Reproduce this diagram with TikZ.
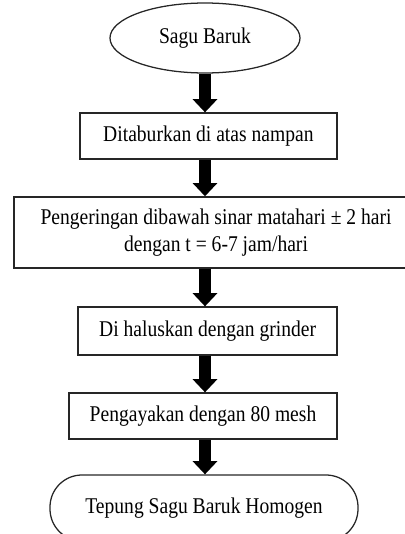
\documentclass[tikz,border=0pt]{standalone}
\usepackage{fontspec}
\setmainfont[FakeStretch=0.87]{Liberation Serif}
\usetikzlibrary{arrows.meta,shapes.geometric}

\begin{document}
\begin{tikzpicture}[x=1cm,y=1cm,font=\fontsize{16}{19}\selectfont,
    >={Triangle[width=0.6cm,length=0.33cm]},
    langkah/.style={draw=black!85,line width=0.9pt,align=center,inner sep=0pt},
    panah/.style={->,line width=0.28cm}]
    \useasboundingbox (0,0) rectangle (10.125,13.35);
    \coordinate (poros) at (5.125,0);

    \node[langkah,ellipse,minimum width=4.75cm,minimum height=1.75cm]
        (sagu) at (5.125,12.4) {Sagu Baruk};
    \node[langkah,minimum width=6.425cm,minimum height=1.15cm]
        (tabur) at (5.21,9.95) {Ditaburkan di atas nampan};
    \node[langkah,minimum width=10.1cm,minimum height=1.775cm]
        (kering) at (5.4,7.54)
        {Pengeringan dibawah sinar matahari ± 2 hari\\
         dengan t = 6-7 jam/hari};
    \node[langkah,minimum width=6.475cm,minimum height=1.2cm]
        (halus) at (5.19,5.075) {Di haluskan dengan grinder};
    \node[langkah,minimum width=6.7cm,minimum height=1.15cm]
        (ayak) at (5.075,2.95) {Pengayakan dengan 80 mesh};
    \node[langkah,rounded corners=0.8cm,minimum width=7.7cm,
        minimum height=1.65cm] (tepung) at (5.1,0.65)
        {Tepung Sagu Baruk Homogen};

    \draw[panah] (poros |- sagu.south) -- (poros |- tabur.north);
    \draw[panah] (poros |- tabur.south) -- (poros |- kering.north);
    \draw[panah] (poros |- kering.south) -- (poros |- halus.north);
    \draw[panah] (poros |- halus.south) -- (poros |- ayak.north);
    \draw[panah] (poros |- ayak.south) -- (poros |- tepung.north);
\end{tikzpicture}
\end{document}
